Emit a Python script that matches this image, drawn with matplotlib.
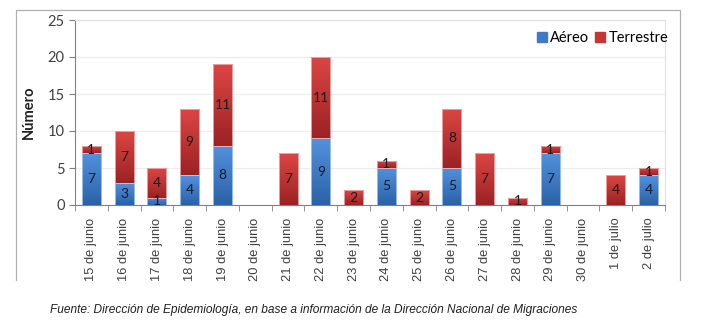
import numpy as np
import matplotlib.pyplot as plt
from matplotlib.colors import LinearSegmentedColormap
from matplotlib.lines import Line2D

fechas = ["15 de junio", "16 de junio", "17 de junio", "18 de junio", "19 de junio",
          "20 de junio", "21 de junio", "22 de junio", "23 de junio", "24 de junio",
          "25 de junio", "26 de junio", "27 de junio", "28 de junio", "29 de junio",
          "30 de junio", "1 de julio", "2 de julio"]
aereo = [7, 3, 1, 4, 8, 0, 0, 9, 0, 5, 0, 5, 0, 0, 7, 0, 0, 4]
terrestre = [1, 7, 4, 9, 11, 0, 7, 11, 2, 1, 2, 8, 7, 1, 1, 0, 4, 1]

AZUL = ("#2b62a8", "#5292dc")   # oscuro abajo, claro arriba
ROJO = ("#9c2224", "#dc4644")
ANCHO = 0.58

plt.rcParams['font.family'] = ['Lato', 'DejaVu Sans']

fig = plt.figure(figsize=(7.08, 3.22), dpi=100)
ax = fig.add_axes([75/708, 1 - 205/322, 590/708, 185/322])

x = np.arange(len(fechas))
b1 = ax.bar(x, aereo, ANCHO, color=AZUL[1], label="Aéreo", zorder=2)
b2 = ax.bar(x, terrestre, ANCHO, bottom=aereo, color=ROJO[1], label="Terrestre", zorder=2)

# degradado vertical dentro de cada segmento
grad = np.linspace(0, 1, 64).reshape(-1, 1)
for barras, cols in ((b1, AZUL), (b2, ROJO)):
    cmap = LinearSegmentedColormap.from_list("g", list(cols))
    for p in barras:
        if p.get_height() == 0:
            continue
        x0, y0 = p.get_x(), p.get_y()
        im = ax.imshow(grad, extent=[x0, x0 + p.get_width(), y0, y0 + p.get_height()],
                       origin="lower", aspect="auto", cmap=cmap, zorder=3)
        im.set_clip_path(p)
        p.set_edgecolor("#f0b0b0" if cols is ROJO else "#a8c8f0")
        p.set_linewidth(0.6)
        p.set_zorder(4)
        p.set_facecolor("none")

# etiquetas de valor
for i in range(len(fechas)):
    if aereo[i] > 0:
        ax.text(x[i], aereo[i] / 2, str(aereo[i]), ha="center", va="center",
                fontsize=10, color="#1a1a2a", zorder=5)
    if terrestre[i] > 0:
        ax.text(x[i], aereo[i] + terrestre[i] / 2, str(terrestre[i]), ha="center",
                va="center", fontsize=10, color="#1a1a1a", zorder=5)

ax.set_xlim(-0.5, len(fechas) - 0.5)
ax.set_ylim(0, 25)
ax.set_yticks(range(0, 26, 5))
ax.set_xticks(x)
ax.set_xticklabels(fechas, rotation=90, fontsize=9.3, color="#404040",
                   family=["Liberation Sans"])
ax.set_xticks(np.arange(-0.5, len(fechas)), minor=True)
ax.tick_params(axis="x", which="major", length=0, pad=9)
ax.tick_params(axis="x", which="minor", length=4, color="#808080", direction="out")
ax.tick_params(axis="y", length=4, color="#808080", labelsize=10.5, labelcolor="#404040")
ax.grid(axis="y", color="#ececec", linewidth=0.8, zorder=0)
ax.set_axisbelow(True)

for lado in ("top", "right"):
    ax.spines[lado].set_color("#e0e0e0")
for lado in ("left", "bottom"):
    ax.spines[lado].set_color("#808080")

ax.set_ylabel("Número", fontsize=10.5, fontweight="bold", color="#202020", labelpad=8)

ax.legend(handles=[plt.Rectangle((0, 0), 1, 1, color="#3f7ac4"),
                   plt.Rectangle((0, 0), 1, 1, color="#c83434")],
          labels=["Aéreo", "Terrestre"], loc="upper right", bbox_to_anchor=(1.015, 0.97),
          ncol=2, frameon=False, fontsize=10.5, handlelength=0.7, handleheight=0.7,
          handletextpad=0.2, columnspacing=0.4, borderaxespad=0)

# marco exterior (sin borde inferior)
W, H = 708, 322
fx = [16 / W, 16 / W, 680 / W, 680 / W]
fy = [1 - 280 / H, 1 - 10 / H, 1 - 10 / H, 1 - 280 / H]
fig.add_artist(Line2D(fx, fy, color="#b0b0b0", linewidth=0.9, transform=fig.transFigure))

fig.text(50 / W, 1 - 310 / H,
         "Fuente: Dirección de Epidemiología, en base a información de la Dirección Nacional de Migraciones",
         fontsize=8.6, style="italic", family=["Liberation Sans"], color="#202020",
         ha="left", va="center")

fig.savefig("out.png", dpi=100)
